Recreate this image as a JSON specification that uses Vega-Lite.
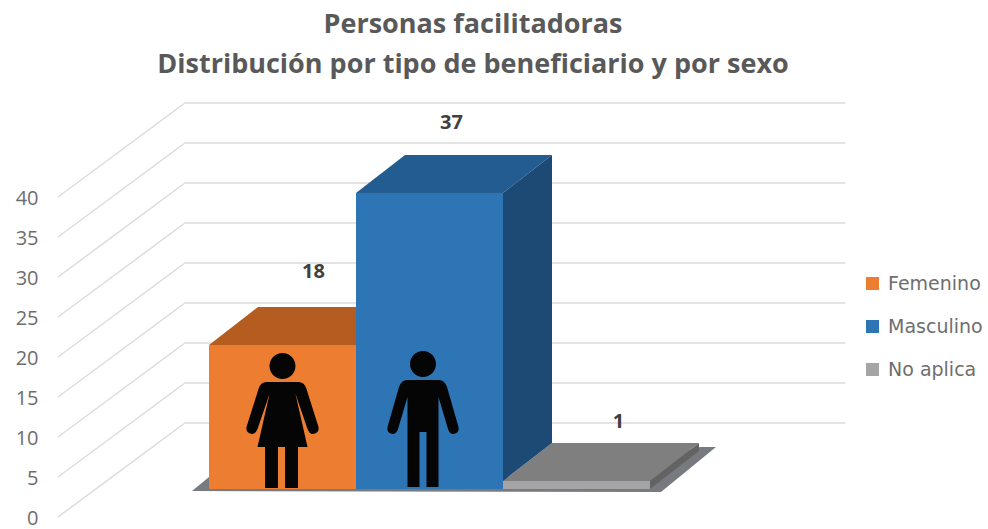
{
 "$schema":"https://vega.github.io/schema/vega-lite/v6.json",
 "width":988,"height":449,
 "autosize":{"type":"none"},
 "padding":{"top":80,"left":0,"right":0,"bottom":0},
 "background":"white",
 "view":{"stroke":null},
 "title":{"text":["Personas facilitadoras","Distribución por tipo de beneficiario y por sexo"],"font":"Open Sans","fontSize":27,"fontWeight":"bold","color":"#595959","anchor":"middle","dx":-21,"offset":1,"lineHeight":40},
 "datasets":{
  "barras":[{"sexo":"Femenino","valor":18},{"sexo":"Masculino","valor":37},{"sexo":"No aplica","valor":1}],
  "ticks":[{"t":0},{"t":5},{"t":10},{"t":15},{"t":20},{"t":25},{"t":30},{"t":35},{"t":40}]
 },
 "encoding":{"x":{"field":"sexo","type":"nominal","sort":null,"axis":null,"scale":{"type":"band","domain":["Femenino","Masculino","No aplica"],"paddingInner":0,"paddingOuter":0,"range":[209,650]}}},
 "resolve":{"scale":{"y":"independent","fill":"independent"}},
 "layer":[
  {"data":{"name":"ticks"},
   "mark":{"type":"point","filled":false,"stroke":"#dcdcdc","strokeWidth":1.5,"opacity":1,"size":4,"shape":"M-371.5,0L-244.5,-94L416,-94"},
   "encoding":{"x":{"datum":"Masculino"},"y":{"field":"t","type":"quantitative","scale":{"domain":[-1.5,54.625],"nice":false,"zero":false},"axis":{"orient":"left","offset":-38,"values":[0,5,10,15,20,25,30,35,40],"domain":false,"ticks":false,"grid":false,"labelPadding":0,"labelOffset":1,"title":null,"labelFont":"Open Sans","labelFontSize":20,"labelColor":"#6e6e6e"}}}},
  {"data":{"name":"barras"},"transform":[{"filter":"datum.sexo==='No aplica'"}],
   "mark":{"type":"point","filled":true,"fill":"#4a4f55","opacity":0.75,"stroke":null,"size":4,"shape":"M-384.5,10L-367.5,-4L23.5,-4L123.5,-34L139.5,-34L84.5,11Z"},
   "encoding":{"y":{"field":"valor","type":"quantitative","scale":{"domain":[-5,51.125],"nice":false,"zero":false},"axis":null}}},
  {"data":{"name":"barras"},
   "mark":{"type":"point","filled":true,"opacity":1,"stroke":null,"size":4,"shape":"M-73.5,0L73.5,0L122.5,-38L-24.5,-38Z"},
   "encoding":{"y":{"field":"valor","type":"quantitative","scale":{"domain":[-5,51.125],"nice":false,"zero":false},"axis":null},"fill":{"field":"sexo","type":"nominal","legend":null,"scale":{"domain":["Femenino","Masculino","No aplica"],"range":["#b55d20","#225c91","#7f7f7f"]}}}},
  {"data":{"name":"barras"},"transform":[{"filter":"datum.sexo==='Masculino'"}],
   "mark":{"type":"point","filled":true,"fill":"#1d4a75","opacity":1,"stroke":null,"size":4,"shape":"M73.5,0L122.5,-38L122.5,250L73.5,288Z"},
   "encoding":{"y":{"field":"valor","type":"quantitative","scale":{"domain":[-5,51.125],"nice":false,"zero":false},"axis":null}}},
  {"data":{"name":"barras"},"transform":[{"filter":"datum.sexo==='No aplica'"}],
   "mark":{"type":"point","filled":true,"fill":"#636363","opacity":1,"stroke":null,"size":4,"shape":"M73.5,0L122.5,-38L122.5,-30L73.5,8Z"},
   "encoding":{"y":{"field":"valor","type":"quantitative","scale":{"domain":[-5,51.125],"nice":false,"zero":false},"axis":null}}},
  {"data":{"name":"barras"},
   "mark":{"type":"bar","stroke":null},
   "encoding":{"y":{"field":"valor","type":"quantitative","stack":null,"scale":{"domain":[-5,51.125],"nice":false,"zero":false},"axis":null},"y2":{"datum":0},
    "color":{"field":"sexo","type":"nominal","scale":{"domain":["Femenino","Masculino","No aplica"],"range":["#ed7d31","#2e75b6","#a5a5a5"]},"legend":{"orient":"none","legendX":863,"legendY":194,"title":null,"symbolType":"square","symbolSize":169,"symbolStrokeWidth":0,"labelFont":"DejaVu Sans","labelFontSize":19,"labelColor":"#6e6e6e","labelOffset":6,"rowPadding":23,"padding":0}}}},
  {"data":{"name":"barras"},"transform":[{"filter":"datum.sexo==='Femenino'"}],
   "mark":{"type":"point","filled":true,"fill":"#050505","opacity":1,"stroke":null,"size":4,"shape":"M-13,-123A13,13,0,1,1,13,-123A13,13,0,1,1,-13,-123ZM-16,-107L16,-107Q22,-107 24,-100L36,-62Q37,-56 30,-55Q27,-55 25,-60L13,-95L25,-42L-25,-42L-13,-95L-25,-60Q-27,-55 -30,-55Q-37,-56 -36,-62L-24,-100Q-22,-107 -16,-107ZM-17.5,-42L-4.5,-42L-4.5,-1L-17.5,-1ZM2.5,-42L15.5,-42L15.5,-1L2.5,-1Z"},
   "encoding":{"y":{"datum":0,"type":"quantitative","scale":{"domain":[-5,51.125],"nice":false,"zero":false},"axis":null}}},
  {"data":{"name":"barras"},"transform":[{"filter":"datum.sexo==='Masculino'"}],
   "mark":{"type":"point","filled":true,"fill":"#050505","opacity":1,"stroke":null,"size":4,"shape":"M-19.5,-125A13,13,0,1,1,6.5,-125A13,13,0,1,1,-19.5,-125ZM-22.5,-109L9.5,-109Q15,-109 17.5,-102L29,-62Q30,-56 24,-55Q20,-55 18.5,-60L9,-92L9,-2L-3,-2L-3,-57L-10,-57L-10,-2L-22,-2L-22,-92L-31.5,-60Q-33,-55 -37,-55Q-43,-56 -42,-62L-30.5,-102Q-28,-109 -22.5,-109Z"},
   "encoding":{"y":{"datum":0,"type":"quantitative","scale":{"domain":[-5,51.125],"nice":false,"zero":false},"axis":null}}},
  {"data":{"name":"barras"},"transform":[{"filter":"datum.sexo==='Femenino'"}],
   "mark":{"type":"text","dx":31,"dy":-73,"font":"Open Sans","fontSize":20,"fontWeight":"bold","color":"#404040"},
   "encoding":{"y":{"field":"valor","type":"quantitative","scale":{"domain":[-5,51.125],"nice":false,"zero":false},"axis":null},"text":{"field":"valor","type":"quantitative"}}},
  {"data":{"name":"barras"},"transform":[{"filter":"datum.sexo==='Masculino'"}],
   "mark":{"type":"text","dx":22,"dy":-70,"font":"Open Sans","fontSize":20,"fontWeight":"bold","color":"#404040"},
   "encoding":{"y":{"field":"valor","type":"quantitative","scale":{"domain":[-5,51.125],"nice":false,"zero":false},"axis":null},"text":{"field":"valor","type":"quantitative"}}},
  {"data":{"name":"barras"},"transform":[{"filter":"datum.sexo==='No aplica'"}],
   "mark":{"type":"text","dx":42,"dy":-59,"font":"Open Sans","fontSize":20,"fontWeight":"bold","color":"#404040"},
   "encoding":{"y":{"field":"valor","type":"quantitative","scale":{"domain":[-5,51.125],"nice":false,"zero":false},"axis":null},"text":{"field":"valor","type":"quantitative"}}}
 ]
}
